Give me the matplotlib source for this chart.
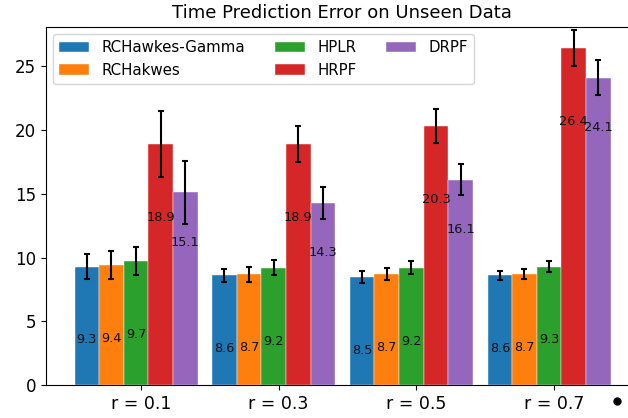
import numpy as np
import matplotlib
matplotlib.use('Agg')
import matplotlib.pyplot as plt
from matplotlib.lines import Line2D

groups = ['r = 0.1', 'r = 0.3', 'r = 0.5', 'r = 0.7']
models = ['RCHawkes-Gamma', 'RCHakwes', 'HPLR', 'HRPF', 'DRPF']
colors = ['#1f77b4', '#ff7f0e', '#2ca02c', '#d62728', '#9467bd']

# mean error per model, one value per r
rchawkes_gamma = [9.3, 8.6, 8.5, 8.6]
rchakwes = [9.4, 8.7, 8.7, 8.7]
hplr = [9.7, 9.2, 9.2, 9.3]
hrpf = [18.9, 18.9, 20.3, 26.4]
drpf = [15.1, 14.3, 16.1, 24.1]

# std of error
rchawkes_gamma_err = [1.0, 0.5, 0.45, 0.35]
rchakwes_err = [1.1, 0.6, 0.45, 0.4]
hplr_err = [1.1, 0.6, 0.5, 0.45]
hrpf_err = [2.6, 1.4, 1.3, 1.4]
drpf_err = [2.5, 1.25, 1.2, 1.4]

means = [rchawkes_gamma, rchakwes, hplr, hrpf, drpf]
errs = [rchawkes_gamma_err, rchakwes_err, hplr_err, hrpf_err, drpf_err]

width = 0.1787
shift = -0.036
label_drop = [5.75, 5.75, 5.75, 5.75, 3.9]

fig = plt.figure(figsize=(6.28, 4.18), dpi=100)
ax = fig.add_axes([0.0732, 0.0782, 0.9436, 0.8579])

ind = np.arange(len(groups))
for i, (m, e) in enumerate(zip(means, errs)):
    xs = ind + (i - 2) * width + shift
    ax.bar(xs, m, width, yerr=e, color=colors[i], label=models[i],
           edgecolor='white', linewidth=0.3,
           error_kw=dict(ecolor='black', elinewidth=1.5, capsize=2.5, capthick=1.5))
    for x, v in zip(xs, m):
        ax.text(x, v - label_drop[i], '%.1f' % v, ha='center', va='center',
                fontsize=9.3, color='#111111')

ax.set_xticks(ind)
ax.set_xticklabels(groups, fontsize=12.5)
ax.tick_params(axis='y', labelsize=12)
ax.set_xlim(-0.69, 3.614)
ax.set_ylim(0, 28.08)
ax.set_yticks([0, 5, 10, 15, 20, 25])
ax.set_title('Time Prediction Error on Unseen Data', fontsize=13)
ax.legend(loc='upper left', ncol=3, fontsize=10.8)

# stray dot in the lower right corner of the picture
fig.add_artist(Line2D([0.982], [0.0414], marker='o', markersize=5,
                      color='black', transform=fig.transFigure))

plt.savefig('out.png', dpi=100)
